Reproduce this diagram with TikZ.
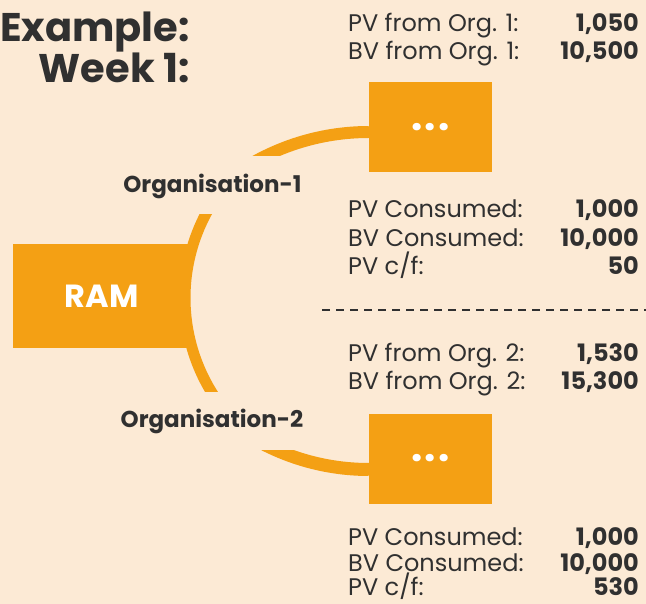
\documentclass[tikz,border=0pt]{standalone}
\usepackage{fontspec}
\setmainfont{Poppins}
\usetikzlibrary{positioning}
\definecolor{background}{RGB}{252,234,213}
\definecolor{penColor}{RGB}{244,160,20}
\definecolor{inkColor}{RGB}{48,48,48}
\tikzset{
  headline/.style={anchor=base east,inner sep=0pt,text=inkColor,font=\bfseries\fontsize{40}{40}\selectfont},
  rambox/.style={fill=penColor,minimum width=177pt,minimum height=104pt,inner sep=0pt,text=white,font=\bfseries\fontsize{32}{32}\selectfont},
  orgbox/.style={fill=penColor,minimum width=123pt,minimum height=90pt,inner sep=0pt,text=white,font=\bfseries\fontsize{40}{40}\selectfont},
  orgname/.style={anchor=base,inner sep=0pt,text=inkColor,font=\bfseries\fontsize{23}{23}\selectfont},
  rowtext/.style={anchor=base west,inner sep=0pt,text=inkColor,font=\fontsize{24}{24}\selectfont},
  rowvalue/.style={anchor=base east,inner sep=0pt,text=inkColor,font=\bfseries\fontsize{24}{24}\selectfont}
}

\begin{document}
\begin{tikzpicture}[x=1pt,y=1pt]
      \fill [background] (0,0) rectangle (646,-604);
      \useasboundingbox (0,0) rectangle (646,-604);

      \node [headline] (example) at (190,-42) {Example:};
      \node [headline] (week) at (190,-83) {Week 1:};

      % RAM with its arc
      \node [rambox] (ram) at (101.5,-296) {RAM};
      \coordinate (hub) at (365,-298);
      \begin{scope}
        \clip (0,-215) rectangle (646,-392);
        \draw [penColor,line width=11pt] (hub) ++(145:180) arc [start angle=145,end angle=220,radius=180];
      \end{scope}

      % the two organisations
      \node [orgbox] (orgboxA) at (430.5,-127) {.\kern2pt.\kern2pt.};
      \node [orgbox] (orgboxB) at (430.5,-458.5) {.\kern2pt.\kern2pt.};
      \begin{scope}
        \clip (0,-156) rectangle (646,0);
        \draw [penColor,line width=12pt] ([yshift=-5pt]orgboxA.west) arc [start angle=90,end angle=125,radius=235];
      \end{scope}
      \begin{scope}
        \clip (0,-450) rectangle (646,-604);
        \draw [penColor,line width=13pt] ([yshift=-11pt]orgboxB.west) arc [start angle=270,end angle=235,radius=230];
      \end{scope}
      \node [orgname] (orgA) at (212.5,-193) {Organisation-1};
      \node [orgname] (orgB) at (212,-428) {Organisation-2};

      % figures for organisation 1
      \node [rowtext] (pvinA) at (348,-32) {PV from Org. 1:};
      \node [rowvalue] (pvinAval) at (639,-32) {1,050};
      \node [rowtext] (bvinA) at (348,-60) {BV from Org. 1:};
      \node [rowvalue] (bvinAval) at (639,-60) {10,500};
      \node [rowtext] (pvuseA) at (348,-218) {PV Consumed:};
      \node [rowvalue] (pvuseAval) at (639,-218) {1,000};
      \node [rowtext] (bvuseA) at (348,-247) {BV Consumed:};
      \node [rowvalue] (bvuseAval) at (639,-247) {10,000};
      \node [rowtext] (pvcfA) at (348,-275) {PV c/f:};
      \node [rowvalue] (pvcfAval) at (639,-275) {50};

      \coordinate (dashstart) at (322,-310);
      \coordinate (dashend) at (646,-310);
      \draw [inkColor,line width=1.3pt,dash pattern=on 8pt off 6pt] (dashstart) -- (dashend);

      % figures for organisation 2
      \node [rowtext] (pvinB) at (348,-362) {PV from Org. 2:};
      \node [rowvalue] (pvinBval) at (639,-362) {1,530};
      \node [rowtext] (bvinB) at (348,-390) {BV from Org. 2:};
      \node [rowvalue] (bvinBval) at (639,-390) {15,300};
      \node [rowtext] (pvuseB) at (348,-545) {PV Consumed:};
      \node [rowvalue] (pvuseBval) at (639,-545) {1,000};
      \node [rowtext] (bvuseB) at (348,-571) {BV Consumed:};
      \node [rowvalue] (bvuseBval) at (639,-571) {10,000};
      \node [rowtext] (pvcfB) at (348,-595) {PV c/f:};
      \node [rowvalue] (pvcfBval) at (639,-595) {530};
\end{tikzpicture}
\end{document}
